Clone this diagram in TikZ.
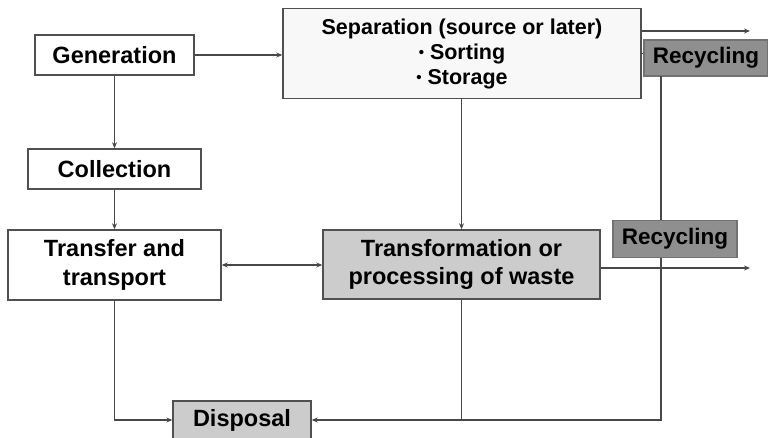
\documentclass[tikz,border=0pt]{standalone}
\usepackage{fontspec}
\setmainfont{Liberation Sans}
\usepackage{tikz}
\usetikzlibrary{positioning,arrows.meta}
\definecolor{boxline}{HTML}{505050}
\definecolor{wire}{HTML}{484848}
\definecolor{sepfill}{HTML}{F8F8F8}
\definecolor{procfill}{HTML}{CCCCCC}
\definecolor{recfill}{HTML}{8F8F8F}
\newcommand{\smallbul}{\raisebox{0.12ex}{\scalebox{0.7}{•}}}
\tikzset{
  stage/.style={draw=boxline, line width=1.4pt, fill=white, align=center, inner sep=0pt,
    font=\fontsize{23.5}{28.5}\selectfont\bfseries},
  treat/.style={stage, fill=procfill},
  recyc/.style={stage, fill=recfill, draw=recfill!80!black, font=\fontsize{22.5}{27}\selectfont\bfseries},
  arrow/.style={-{Stealth[length=6pt,width=5pt]}, draw=wire, line width=1.2pt},
  link/.style={draw=wire, line width=1.2pt}
}

\begin{document}
\begin{tikzpicture}[x=1pt, y=-1pt]
  \useasboundingbox (0,0) rectangle (768,438);

  \node[stage, minimum width=159pt, minimum height=40pt] (gen) at (114.5,55) {Generation};
  \node[stage, minimum width=173pt, minimum height=40pt] (coll) at (114.5,169) {Collection};
  \node[stage, fill=sepfill, minimum width=358pt, minimum height=90pt,
        font=\fontsize{21.5}{25}\selectfont\bfseries] (sep) at (462,53.5)
        {Separation (source or later)\\\smallbul\ Sorting\\\smallbul\ Storage};
  \node[recyc, minimum width=124pt, minimum height=36pt] (rec1) at (706,58) {Recycling};
  \node[stage, minimum width=213pt, minimum height=70pt] (trans) at (114.5,265) {Transfer and\\transport};
  \node[treat, minimum width=277pt, minimum height=69pt] (proc) at (461.5,264.5) {Transformation or\\processing of waste};
  \node[treat, minimum width=138pt, minimum height=38pt] (disp) at (242,420) {Disposal};

  \coordinate (out1) at (750,31);
  \coordinate (out2) at (750,268);
  \coordinate (drop) at (661,76);

  \draw[arrow] (gen) -- (gen -| sep.west);
  \draw[arrow] (gen) -- (coll);
  \draw[arrow] (coll) -- (trans);
  \draw[arrow, {Stealth[length=6pt,width=5pt]}-{Stealth[length=6pt,width=5pt]}] (trans) -- (trans -| proc.west);
  \draw[arrow] (sep.south -| proc.north) -- (proc.north);
  \draw[arrow] (out1 -| sep.east) -- (out1);
  \draw[arrow] (out2 -| proc.east) -- (out2);
  \draw[link] (sep.east) -- (sep.east -| rec1.west);
  \draw[arrow] (trans.south) |- (disp.west);
  \draw[arrow] (proc.south) |- (disp.east);
  \draw[link] (drop) |- (proc.south |- disp.east);

  \node[recyc, minimum width=124pt, minimum height=37pt] (rec2) at (675,239) {Recycling};
\end{tikzpicture}
\end{document}
